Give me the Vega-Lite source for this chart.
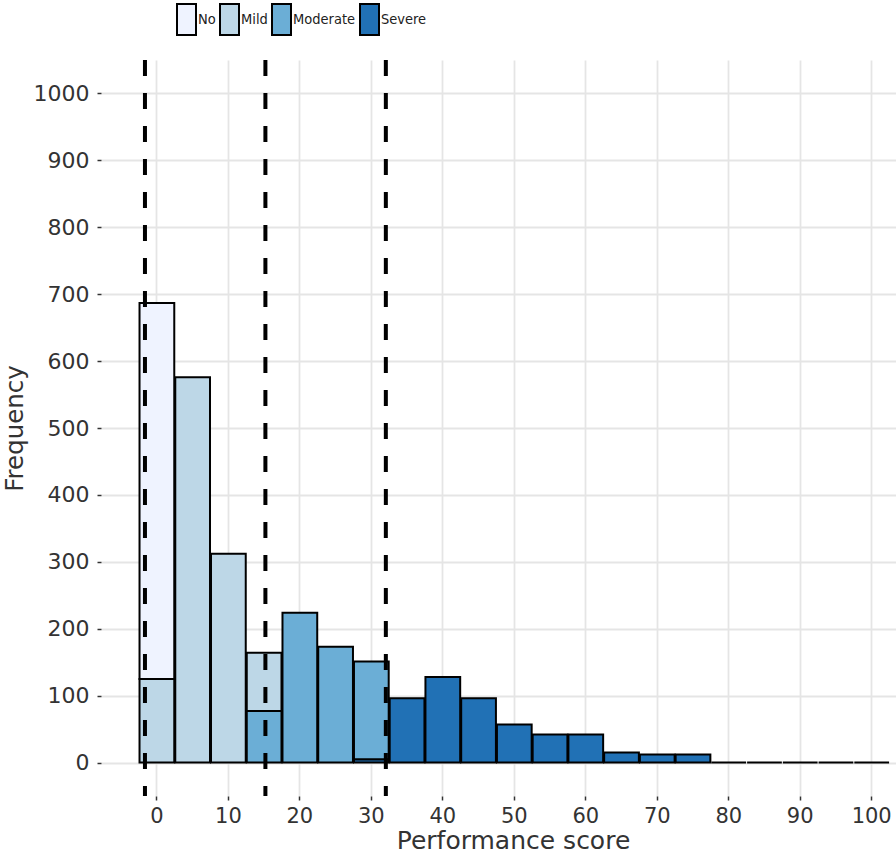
{
  "$schema": "https://vega.github.io/schema/vega-lite/v6.json",
  "width": 795,
  "height": 736,
  "autosize": {"type": "none"},
  "padding": {"left": 101, "top": 60, "right": 0, "bottom": 57},
  "background": "white",
  "config": {"view": {"stroke": null}, "font": "DejaVu Sans"},
  "datasets": {
    "bins": [
      {"start": -2.5, "end": 2.5, "severity": "Mild", "level": 2, "count": 125},
      {"start": -2.5, "end": 2.5, "severity": "No", "level": 1, "count": 562},
      {"start": 2.5, "end": 7.5, "severity": "Mild", "level": 2, "count": 576},
      {"start": 7.5, "end": 12.5, "severity": "Mild", "level": 2, "count": 312},
      {"start": 12.5, "end": 17.5, "severity": "Moderate", "level": 3, "count": 77},
      {"start": 12.5, "end": 17.5, "severity": "Mild", "level": 2, "count": 87},
      {"start": 17.5, "end": 22.5, "severity": "Moderate", "level": 3, "count": 224},
      {"start": 22.5, "end": 27.5, "severity": "Moderate", "level": 3, "count": 173},
      {"start": 27.5, "end": 32.5, "severity": "Severe", "level": 4, "count": 5},
      {"start": 27.5, "end": 32.5, "severity": "Moderate", "level": 3, "count": 146},
      {"start": 32.5, "end": 37.5, "severity": "Severe", "level": 4, "count": 96},
      {"start": 37.5, "end": 42.5, "severity": "Severe", "level": 4, "count": 128},
      {"start": 42.5, "end": 47.5, "severity": "Severe", "level": 4, "count": 96},
      {"start": 47.5, "end": 52.5, "severity": "Severe", "level": 4, "count": 57},
      {"start": 52.5, "end": 57.5, "severity": "Severe", "level": 4, "count": 42},
      {"start": 57.5, "end": 62.5, "severity": "Severe", "level": 4, "count": 42},
      {"start": 62.5, "end": 67.5, "severity": "Severe", "level": 4, "count": 15},
      {"start": 67.5, "end": 72.5, "severity": "Severe", "level": 4, "count": 12},
      {"start": 72.5, "end": 77.5, "severity": "Severe", "level": 4, "count": 12},
      {"start": 77.5, "end": 82.5, "severity": "Severe", "level": 4, "count": 0},
      {"start": 82.5, "end": 87.5, "severity": "Severe", "level": 4, "count": 0},
      {"start": 87.5, "end": 92.5, "severity": "Severe", "level": 4, "count": 0},
      {"start": 92.5, "end": 97.5, "severity": "Severe", "level": 4, "count": 0},
      {"start": 97.5, "end": 102.5, "severity": "Severe", "level": 4, "count": 0}
    ],
    "cuts": [{"score": -1.6}, {"score": 15.25}, {"score": 32.1}]
  },
  "layer": [
    {
      "data": {"name": "bins"},
      "mark": {"type": "bar", "stroke": "black", "strokeWidth": 2, "opacity": 1},
      "encoding": {
        "x": {
          "field": "start",
          "type": "quantitative",
          "bin": {"binned": true, "step": 5},
          "scale": {"domain": [-7.75, 103.47], "nice": false, "zero": false},
          "axis": {
            "title": "Performance score",
            "values": [0, 10, 20, 30, 40, 50, 60, 70, 80, 90, 100],
            "grid": true,
            "gridColor": "#E5E5E5",
            "gridWidth": 1.8,
            "domain": false,
            "tickSize": 4,
            "tickColor": "#333",
            "tickWidth": 1.5,
            "labelFontSize": 21,
            "labelColor": "#333",
            "labelPadding": 5,
            "labelFlush": false,
            "titleFontSize": 25,
            "titleFontWeight": "normal",
            "titleColor": "#333",
            "titleX": 412,
            "titleY": 52,
            "titleBaseline": "alphabetic"
          }
        },
        "x2": {"field": "end"},
        "y": {
          "field": "count",
          "type": "quantitative",
          "stack": "zero",
          "scale": {"domain": [-50, 1050], "nice": false, "zero": false},
          "axis": {
            "title": "Frequency",
            "format": "d",
            "values": [0, 100, 200, 300, 400, 500, 600, 700, 800, 900, 1000],
            "grid": true,
            "gridColor": "#E5E5E5",
            "gridWidth": 1.8,
            "domain": false,
            "tickSize": 4,
            "tickColor": "#333",
            "tickWidth": 1.5,
            "labelFontSize": 22,
            "labelColor": "#333",
            "labelPadding": 8,
            "titleFontSize": 24.5,
            "titleFontWeight": "normal",
            "titleColor": "#333",
            "titleX": -74,
            "titleY": 368
          }
        },
        "color": {
          "field": "severity",
          "type": "nominal",
          "scale": {
            "domain": ["No", "Mild", "Moderate", "Severe"],
            "range": ["#EFF3FF", "#BDD7E7", "#6BAED6", "#2171B5"]
          },
          "legend": {
            "orient": "none",
            "legendX": 75,
            "legendY": -51,
            "direction": "horizontal",
            "title": null,
            "symbolType": "M-1,-1.63H1V1.63H-1Z",
            "symbolSize": 361,
            "symbolStrokeColor": "black",
            "symbolStrokeWidth": 2,
            "symbolOpacity": 1,
            "labelFont": "DejaVu Sans Condensed",
            "labelFontSize": 14.5,
            "labelColor": "#222",
            "labelOffset": 1,
            "columnPadding": 0,
            "padding": 0
          }
        },
        "order": {"field": "level", "type": "quantitative", "sort": "descending"}
      }
    },
    {
      "data": {"name": "cuts"},
      "mark": {"type": "rule", "strokeDash": [16, 17], "strokeWidth": 4, "color": "black"},
      "encoding": {"x": {"field": "score", "type": "quantitative"}}
    }
  ]
}
